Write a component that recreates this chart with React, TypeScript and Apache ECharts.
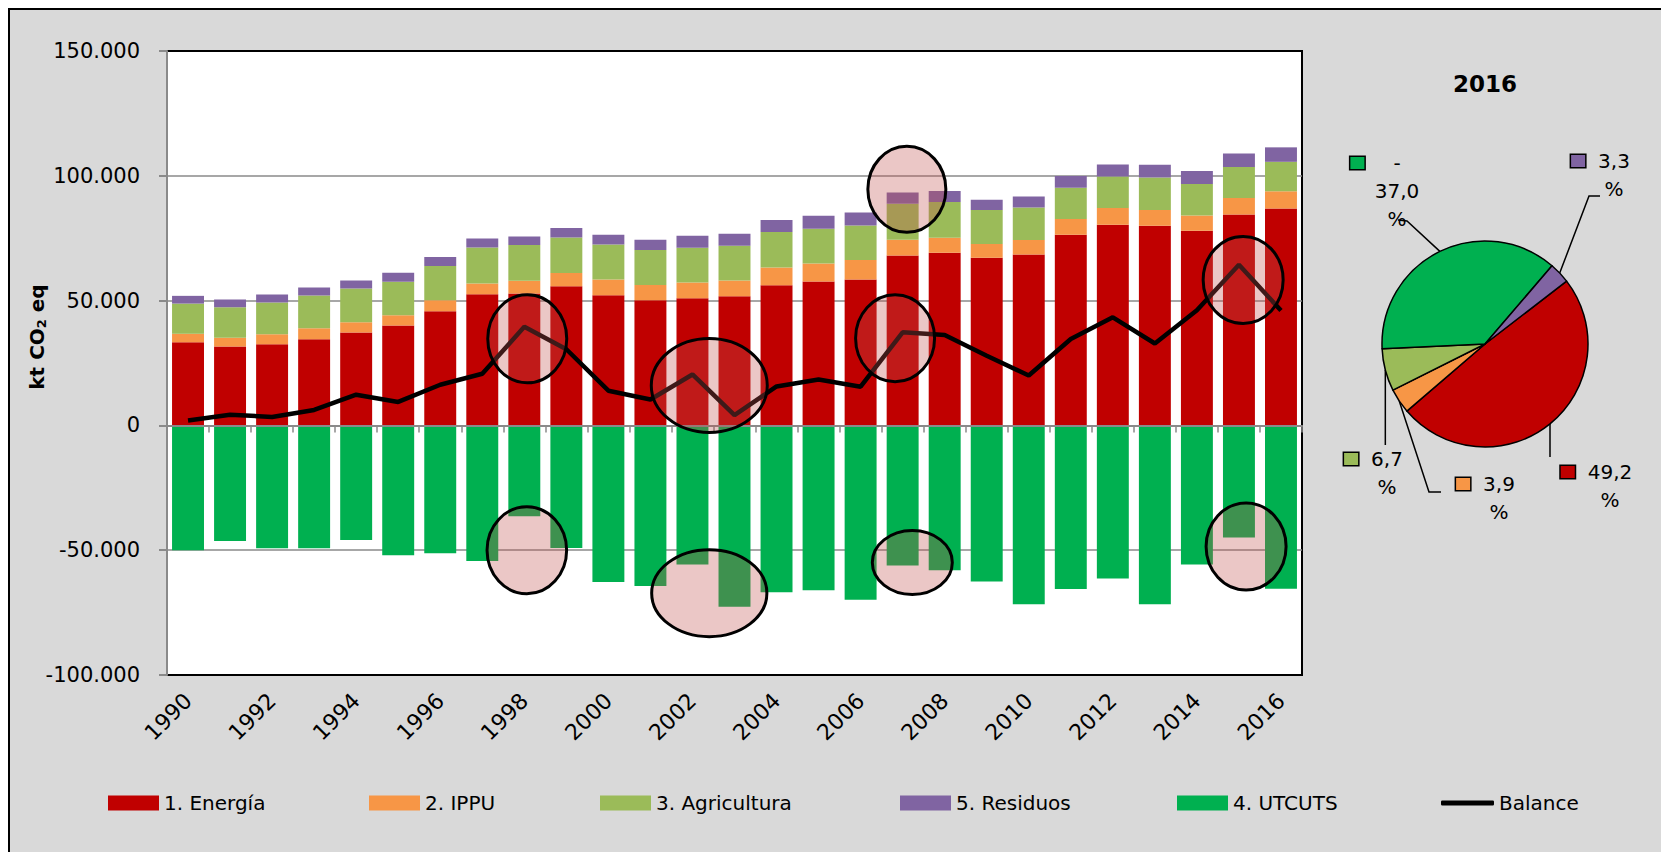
import React, { useEffect, useRef } from 'react';
import * as echarts from 'echarts';

// ---------------- data (kt CO2 eq) ----------------
const years = ['1990','1991','1992','1993','1994','1995','1996','1997','1998','1999','2000','2001','2002','2003','2004','2005','2006','2007','2008','2009','2010','2011','2012','2013','2014','2015','2016'];

const energia = [33300,31600,32500,34500,37200,40000,45700,52500,52800,55700,52100,50100,50900,51700,56100,57700,58500,68100,69200,67200,68500,76400,80400,80000,78000,84500,86900];
const ippu = [3400,3500,4000,4400,4100,4100,4400,4400,5200,5400,6400,6200,6400,6400,7200,7200,7800,6300,6000,5500,5800,6300,6700,6300,6100,6600,6900];
const agricultura = [12100,12200,12700,13100,13500,13500,13800,14400,14300,14200,14000,14000,13900,13900,14200,13900,13800,14400,14300,13600,13000,12500,12600,13000,12600,12400,11800];
const residuos = [3100,3100,3200,3200,3300,3600,3600,3600,3400,3800,3900,4100,4800,4800,4800,5200,5200,4500,4400,4100,4400,4700,4800,5100,5200,5400,5800];
const utcuts = [-50000,-46300,-49200,-49200,-45900,-52000,-51200,-54300,-36400,-49100,-62700,-64300,-55700,-72700,-66800,-66000,-69900,-56100,-58000,-62500,-71700,-65500,-61300,-71700,-55700,-44900,-65400];
const balance = [2000,4300,3400,6200,12300,9400,16300,20700,39500,30500,13900,10400,20400,4100,15600,18400,15500,37300,36200,27900,20000,34600,43300,32800,46100,64400,46000];

const seriesNames = ['1. Energía', '2. IPPU', '3. Agricultura', '5. Residuos', '4. UTCUTS', 'Balance'];

// pie (year 2016), clockwise order as drawn
const pieYear = '2016';
const pieNames = ['1. Energía', '2. IPPU', '3. Agricultura', '4. UTCUTS', '5. Residuos'];
const pieValues = [energia[26], ippu[26], agricultura[26], utcuts[26], residuos[26]];

// highlighted zones: category position (fractional index) and value
const highlightAt = [8.07, 12.4, 17.1, 16.82, 25.1, 8.06, 12.4, 17.23, 25.17];
const highlightValue = [34700, 16000, 94600, 34900, 58300, -50000, -67200, -54900, -48500];

// ---------------- styles / layout ----------------
const FONT = 'DejaVu Sans';
const COLORS: Record<string, string> = {
  '1. Energía': '#C00000',
  '2. IPPU': '#F79646',
  '3. Agricultura': '#9BBB59',
  '5. Residuos': '#8064A2',
  '4. UTCUTS': '#00B050',
  'Balance': '#000000',
};
const AXIS_GRAY = '#8a8a8a';
const legendLeft = [108, 369, 600, 900, 1177, 1441];
const highlightRadius = [[39.5, 44], [58, 47], [39, 43], [39.5, 43.5], [40, 43.5], [39.8, 43.5], [57.6, 43.5], [40, 32], [40, 43.5]];

type Pt = [number, number];
const pieLabelPlace: { x: number; y: number; guide: (e: Pt) => Pt[] }[] = [
  { x: 1610, y: 458, guide: (e) => [e, [e[0], 457], [e[0], 457]] },
  { x: 1499, y: 470, guide: (e) => [e, [1429, 492], [1441, 492]] },
  { x: 1387, y: 445, guide: (e) => [e, [e[0], 445], [e[0], 445]] },
  { x: 1397, y: 149, guide: (e) => [e, [1407, 221], [1398, 220]] },
  { x: 1614, y: 147, guide: (e) => [e, [1589, 196], [1600, 196]] },
];

const fmt = (v: number) => {
  const s = Math.abs(v).toString().replace(/\B(?=(\d{3})+(?!\d))/g, '.');
  return (v < 0 ? '-' : '') + s;
};

function buildOption() {
  const pieTotal = pieValues.reduce((a, b) => a + Math.abs(b), 0);
  const pieData = pieNames.map((name, i) => {
    const v = pieValues[i];
    const pct = ((Math.abs(v) / pieTotal) * 100).toFixed(1).replace('.', ',');
    const text = v < 0
      ? `{k|}{gw|}{n|-}{gw|}{h|}\n{n|${pct}}\n{n|%}`
      : `{k|}{g|}{n|${pct}}{g|}{h|}\n{n|%}`;
    return {
      name,
      value: Math.abs(v),
      itemStyle: { color: COLORS[name] },
      label: {
        formatter: text,
        rich: {
          k: { width: 14, height: 12, backgroundColor: COLORS[name], borderColor: '#000', borderWidth: 1.5 },
          h: { width: 14, height: 12 },
          g: { width: 13 },
          gw: { width: 29 },
          n: { fontFamily: FONT, fontSize: 20, lineHeight: 28, color: '#000' },
        },
      },
    };
  });

  const barSeries = [
    { name: '1. Energía', data: energia },
    { name: '2. IPPU', data: ippu },
    { name: '3. Agricultura', data: agricultura },
    { name: '5. Residuos', data: residuos },
    { name: '4. UTCUTS', data: utcuts },
  ].map((s) => ({
    type: 'bar',
    name: s.name,
    data: s.data,
    stack: 'total',
    barCategoryGap: '24%',
    xAxisIndex: 0,
    yAxisIndex: 0,
    itemStyle: { color: COLORS[s.name] },
    emphasis: { disabled: true },
    silent: true,
  }));

  return {
    animation: false,
    backgroundColor: 'transparent',
    textStyle: { fontFamily: FONT, color: '#000' },
    grid: {
      left: 167, right: 359, top: 51, bottom: 177,
      show: true, backgroundColor: '#ffffff', borderColor: '#000', borderWidth: 2,
      containLabel: false, outerBoundsMode: 'none',
    },
    xAxis: [
      {
        type: 'category', data: years, position: 'bottom',
        axisLine: { show: false, onZero: false },
        axisTick: { show: false },
        axisLabel: { interval: 1, rotate: 45, margin: 22, fontSize: 22, color: '#000', fontFamily: FONT },
        splitLine: { show: false },
      },
      {
        type: 'category', data: years, position: 'top', z: 3,
        axisLine: { show: true, onZero: true, lineStyle: { color: AXIS_GRAY, width: 2 } },
        axisTick: { show: true, inside: true, length: 7, interval: 0, lineStyle: { color: AXIS_GRAY, width: 1.5 } },
        axisLabel: { show: false },
        splitLine: { show: false },
      },
    ],
    yAxis: {
      type: 'value', min: -100000, max: 150000, interval: 50000,
      axisLine: { show: true, lineStyle: { color: AXIS_GRAY, width: 2 } },
      axisTick: { show: true, length: 8, lineStyle: { color: AXIS_GRAY, width: 2 } },
      axisLabel: { formatter: fmt, fontSize: 21, color: '#000', margin: 27, fontFamily: FONT },
      splitLine: { show: true, showMinLine: false, showMaxLine: false, lineStyle: { color: AXIS_GRAY, width: 1.5 } },
    },
    legend: seriesNames.map((name, i) => {
      const isLine = name === 'Balance';
      return {
        data: [{ name, icon: isLine ? 'roundRect' : 'rect' }],
        left: legendLeft[i],
        top: 793,
        padding: 0,
        itemWidth: isLine ? 53 : 51,
        itemHeight: isLine ? 5 : 15,
        itemGap: 0,
        selectedMode: false,
        itemStyle: { color: COLORS[name], borderWidth: 0 },
        lineStyle: { width: 0 },
        textStyle: { fontSize: 20, color: '#000', fontFamily: FONT },
      };
    }),
    series: [
      ...barSeries,
      {
        type: 'line', name: 'Balance', data: balance,
        xAxisIndex: 0, yAxisIndex: 0,
        symbol: 'none', showSymbol: false, z: 5,
        lineStyle: { color: '#000', width: 4.5 },
        itemStyle: { color: '#000' },
        emphasis: { disabled: true }, silent: true,
      },
      {
        type: 'pie', name: pieYear,
        center: [1485, 344], radius: 103,
        startAngle: 37.6, clockwise: true,
        avoidLabelOverlap: false,
        silent: true,
        emphasis: { disabled: true },
        itemStyle: { borderColor: '#000', borderWidth: 1.5 },
        label: { show: true, position: 'outside', fontFamily: FONT, fontSize: 20, color: '#000' },
        labelLine: { show: true, length: 10, length2: 10, lineStyle: { color: '#000', width: 1.5 } },
        labelLayout: (params: any) => {
          const place = pieLabelPlace[params.dataIndex];
          const pts = params.labelLinePoints;
          const e: Pt = pts && pts[0] ? [pts[0][0], pts[0][1]] : [place.x, place.y];
          return { x: place.x, y: place.y, align: 'center', verticalAlign: 'top', labelLinePoints: place.guide(e) };
        },
        data: pieData,
      },
    ],
    graphic: baseGraphics(),
  };
}

function baseGraphics(): any[] {
  return [
    {
      id: 'ytitle', type: 'text', x: 37, y: 337, rotation: Math.PI / 2, z: 50,
      style: {
        text: '{b|kt CO}{s|2}{b| eq}',
        align: 'center', verticalAlign: 'middle',
        rich: {
          b: { fontFamily: FONT, fontWeight: 'bold', fontSize: 20, fill: '#000', lineHeight: 22 },
          s: { fontFamily: FONT, fontWeight: 'bold', fontSize: 13, fill: '#000', verticalAlign: 'bottom' },
        },
      },
    },
    {
      id: 'pietitle', type: 'text', x: 1485, y: 84, z: 50,
      style: { text: pieYear, font: `bold 23px "${FONT}"`, fill: '#000', align: 'center', verticalAlign: 'middle' },
    },
  ];
}

export default function App() {
  const ref = useRef<HTMLDivElement>(null);
  useEffect(() => {
    if (!ref.current) return;
    const chart = echarts.init(ref.current, null, { renderer: 'svg' });
    chart.setOption(buildOption() as any);

    const toPx = (at: number, v: number): Pt => {
      const i0 = Math.floor(at);
      const f = at - i0;
      const a = chart.convertToPixel({ gridIndex: 0 } as any, [i0, v]) as any;
      const b = chart.convertToPixel({ gridIndex: 0 } as any, [i0 + 1, v]) as any;
      return [a[0] + (b[0] - a[0]) * f, a[1]];
    };
    const ellipses = highlightAt.map((at, i) => {
      const [cx, cy] = toPx(at, highlightValue[i]);
      return {
        id: 'hl' + i, type: 'ellipse', z: 100, silent: true,
        shape: { cx, cy, rx: highlightRadius[i][0], ry: highlightRadius[i][1] },
        style: { fill: 'rgba(192,80,77,0.32)', stroke: '#000', lineWidth: 3 },
      };
    });
    chart.setOption({ graphic: [...baseGraphics(), ...ellipses] } as any);

    return () => chart.dispose();
  }, []);

  return (
    <>
      <div
        style={{
          position: 'fixed', left: 8, top: 8, width: 1665, height: 860,
          background: '#D9D9D9', border: '2px solid #000', boxSizing: 'border-box',
        }}
      />
      <div ref={ref} style={{ position: 'fixed', left: 0, top: 0, width: 1661, height: 852 }} />
    </>
  );
}
